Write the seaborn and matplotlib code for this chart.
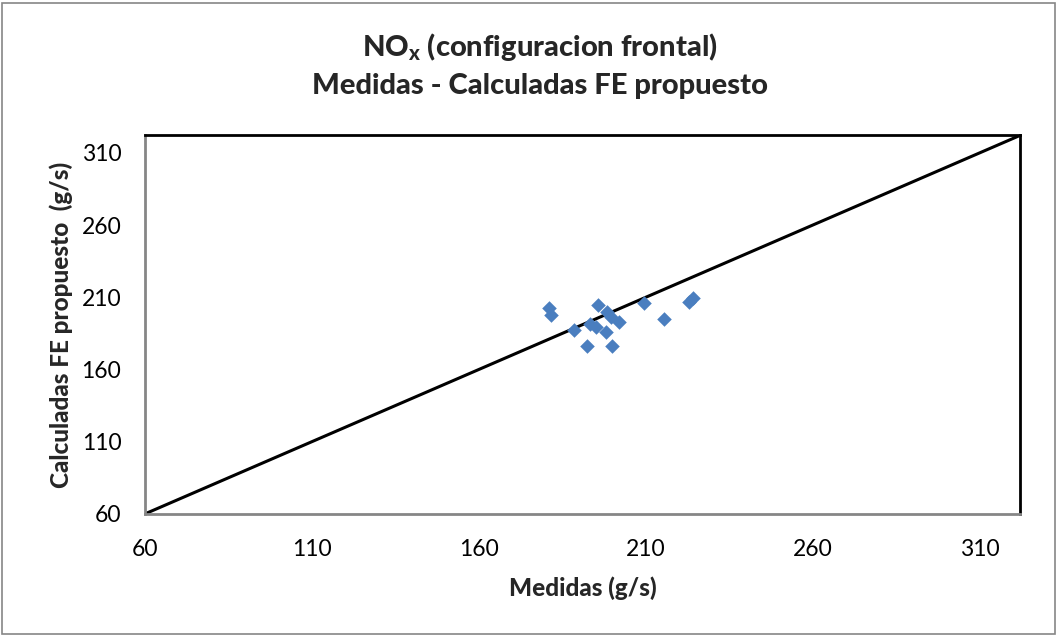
import matplotlib
matplotlib.use("Agg")
import matplotlib.pyplot as plt
from matplotlib.patches import Rectangle
import seaborn as sns
import pandas as pd

# Measured vs. calculated NOx emission (g/s)
medidas = [181.0, 181.7, 195.7, 198.5, 199.5, 201.9, 209.3, 188.4,
           193.2, 195.2, 198.2, 192.5, 200.0, 215.3, 222.8, 224.0]
calculadas = [202.5, 197.4, 204.8, 199.7, 196.3, 192.8, 205.9, 187.1,
              191.2, 189.4, 185.9, 176.2, 176.5, 195.2, 206.6, 209.7]
ticks = [60, 110, 160, 210, 260, 310]
lim_min, lim_max = 60, 322

sns.set_theme(style="white")
plt.rcParams["font.family"] = ["Lato", "DejaVu Sans"]
plt.rcParams["mathtext.fontset"] = "custom"
plt.rcParams["mathtext.rm"] = "Lato:black"
plt.rcParams["mathtext.bf"] = "Lato:black"

df = pd.DataFrame({"Medidas": medidas, "Calculadas": calculadas})

fig = plt.figure(figsize=(10.58, 6.36), dpi=100)
ax = fig.add_axes([0.137, 0.192, 0.827, 0.595])

# 1:1 reference line
ax.plot([lim_min, lim_max], [lim_min, lim_max], color="black", lw=2.2, zorder=1)

sns.scatterplot(data=df, x="Medidas", y="Calculadas", ax=ax, marker="D",
                s=55, color="#4A7EBF", edgecolor="#4A7EBF", linewidth=0, zorder=3)

ax.set_xlim(lim_min, lim_max)
ax.set_ylim(lim_min, lim_max)
ax.set_xticks(ticks)
ax.set_yticks(ticks)
ax.tick_params(axis="both", labelsize=16.5, colors="black", length=0)
ax.tick_params(axis="x", pad=18)
ax.tick_params(axis="y", pad=17)

for side in ("left", "bottom"):
    ax.spines[side].set_color("#868686")
    ax.spines[side].set_linewidth(2)
for side in ("top", "right"):
    ax.spines[side].set_color("black")
    ax.spines[side].set_linewidth(2)

ax.set_xlabel("Medidas (g/s)", fontsize=17.5, fontweight="black", labelpad=12)
ax.set_ylabel("Calculadas FE propuesto  (g/s)", fontsize=17.5, fontweight="black", labelpad=6)

fig.text(0.51, 0.926, r"$\mathbf{NO_x}$ (configuracion frontal)", ha="center", va="center",
         fontsize=21, fontweight="black")
fig.text(0.51, 0.864, "Medidas - Calculadas FE propuesto", ha="center", va="center",
         fontsize=21, fontweight="black")

fig.patches.append(Rectangle((0.002, 0.003), 0.995, 0.993, transform=fig.transFigure,
                             fill=False, edgecolor="#868686", lw=1.2))

fig.savefig("out.png", dpi=100)
